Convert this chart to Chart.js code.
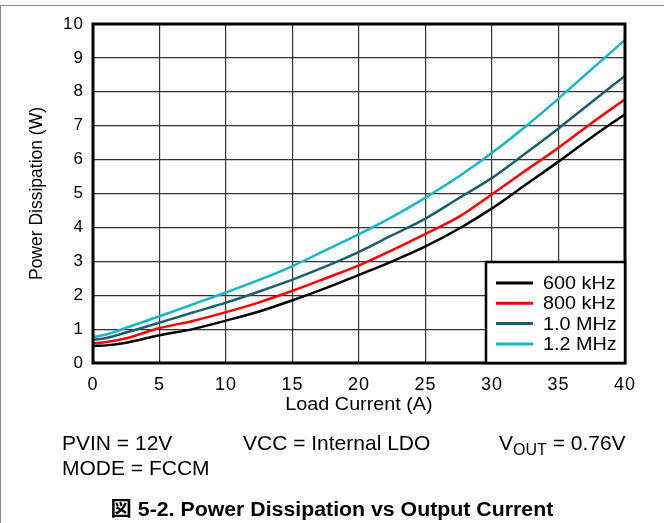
<!DOCTYPE html>
<html>
<head>
<meta charset="utf-8">
<script src="https://cdn.jsdelivr.net/npm/chart.js@4/dist/chart.umd.min.js"></script>
<style>
  body { margin: 0; background: #fff; }
  #wrap { position: relative; width: 664px; height: 523px; overflow: hidden; font-family: "Liberation Sans", Arial, sans-serif; }
  #chart { position: absolute; left: 0; top: 0; }
  .frameTop { position: absolute; left: 0; top: 5px; width: 664px; height: 1px; background: #8a8a8a; }
  .frameLeft { position: absolute; left: 0; top: 5px; width: 1px; height: 518px; background: #8a8a8a; }
  .note { position: absolute; font-size: 21px; color: #000; white-space: nowrap; line-height: 1; }
  .note sub { font-size: 16px; vertical-align: -5px; line-height: 0; }
  .caption { position: absolute; left: 0; width: 664px; text-align: center; top: 499px; font-size: 20px; line-height: 1; font-weight: bold;
             transform: scaleX(1.065); transform-origin: 333px 0; white-space: nowrap;
             font-family: "Liberation Sans", Arial, "Noto Sans CJK JP", sans-serif; }
</style>
</head>
<body>
<div id="wrap">
  <canvas id="chart" width="664" height="523"></canvas>
  <div class="frameTop"></div>
  <div class="frameLeft"></div>
  <div class="note" style="left:62px; top:432px;">PVIN = 12V</div>
  <div class="note" style="left:243px; top:432px;">VCC = Internal LDO</div>
  <div class="note" style="left:499px; top:432px;">V<sub>OUT</sub> = 0.76V</div>
  <div class="note" style="left:62px; top:457px;">MODE = FCCM</div>
  <div class="caption">図 5-2. Power Dissipation vs Output Current</div>
</div>
<script>
// load current (A)
const loadCurrent = [0, 1, 2.5, 5, 7.5, 10, 12.5, 15, 17.5, 20, 22.5, 25, 27.5, 30, 32.5, 35, 37.5, 40];

// power dissipation (W) per switching frequency
const pd600k = [0.50, 0.52, 0.60, 0.82, 1.00, 1.25, 1.52, 1.85, 2.21, 2.60, 3.00, 3.44, 3.96, 4.56, 5.25, 5.94, 6.66, 7.34];
const pd800k = [0.58, 0.62, 0.73, 1.03, 1.24, 1.50, 1.79, 2.13, 2.50, 2.88, 3.33, 3.81, 4.31, 4.98, 5.67, 6.35, 7.08, 7.78];
const pd1M   = [0.68, 0.74, 0.90, 1.19, 1.49, 1.78, 2.11, 2.46, 2.85, 3.28, 3.77, 4.26, 4.86, 5.46, 6.18, 6.92, 7.70, 8.47];
const pd1M2  = [0.77, 0.84, 1.04, 1.38, 1.73, 2.08, 2.45, 2.86, 3.33, 3.80, 4.31, 4.88, 5.50, 6.20, 6.97, 7.80, 8.67, 9.53];

const seriesLabels = ['600 kHz', '800 kHz', '1.0 MHz', '1.2 MHz'];
const seriesColors = ['#000000', '#ff0000', '#1b5e6d', '#16b6c6'];

const xTicks = [0, 5, 10, 15, 20, 25, 30, 35, 40];
const yTicks = [0, 1, 2, 3, 4, 5, 6, 7, 8, 9, 10];

const xTitle = 'Load Current (A)';
const yTitle = 'Power Dissipation (W)';

const FONT = '"Liberation Sans", Arial, sans-serif';

function toPoints(ys) {
    return loadCurrent.map((x, i) => ({ x: x, y: ys[i] }));
}

const allSeries = [pd600k, pd800k, pd1M, pd1M2];

// the source text is a bit wide, spread the tick labels a little
const spacing = {
    id: 'spacing',
    beforeDraw(chart) {
        chart.ctx.letterSpacing = '1px';
    }
};

// thick frame round the plot area
const framePlugin = {
    id: 'frame',
    afterDatasetsDraw(chart) {
        const a = chart.chartArea;
        const ctx = chart.ctx;
        ctx.save();
        ctx.strokeStyle = '#000';
        ctx.lineWidth = 3;
        ctx.strokeRect(a.left, a.top, a.right - a.left, a.bottom - a.top);
        ctx.restore();
    }
};

// axis titles, drawn by hand so the x one can be stretched like the source
const axisTitles = {
    id: 'axisTitles',
    afterDraw(chart) {
        const a = chart.chartArea;
        const ctx = chart.ctx;
        ctx.save();
        ctx.fillStyle = '#000';
        ctx.textAlign = 'center';
        ctx.textBaseline = 'alphabetic';
        ctx.letterSpacing = '0px';
        ctx.save();
        ctx.font = '17.5px ' + FONT;
        ctx.translate((a.left + a.right) / 2, a.bottom + 46.5);
        ctx.scale(1.13, 1);
        ctx.fillText(xTitle, 0, 0);
        ctx.restore();
        ctx.font = '17.5px ' + FONT;
        ctx.translate(42, (a.top + a.bottom) / 2);
        ctx.rotate(-Math.PI / 2);
        ctx.fillText(yTitle, 0, 0);
        ctx.restore();
    }
};

// legend box in the lower right corner of the plot
const boxLegend = {
    id: 'boxLegend',
    afterDraw(chart) {
        const a = chart.chartArea;
        const ctx = chart.ctx;
        const w = 139, h = 101;
        const left = a.right - w, top = a.bottom - h;
        ctx.save();
        ctx.fillStyle = '#fff';
        ctx.fillRect(left, top, w, h);
        ctx.strokeStyle = '#000';
        ctx.lineWidth = 2.5;
        ctx.strokeRect(left, top, w, h);
        ctx.font = '18px ' + FONT;
        ctx.letterSpacing = '0px';
        ctx.textBaseline = 'middle';
        ctx.textAlign = 'left';
        chart.data.datasets.forEach((ds, i) => {
            const y = top + 21 + i * 20.3;
            ctx.strokeStyle = ds.borderColor;
            ctx.lineWidth = 3;
            ctx.beginPath();
            ctx.moveTo(left + 10, y);
            ctx.lineTo(left + 47, y);
            ctx.stroke();
            ctx.save();
            ctx.translate(left + 57, y + 1);
            ctx.scale(1.1, 1);
            ctx.fillStyle = '#000';
            ctx.fillText(ds.label, 0, 0);
            ctx.restore();
        });
        ctx.restore();
    }
};

const ctx = document.getElementById('chart');
new Chart(ctx, {
    type: 'line',
    data: {
        datasets: allSeries.map((ys, i) => ({
            label: seriesLabels[i],
            data: toPoints(ys),
            borderColor: seriesColors[i],
            backgroundColor: seriesColors[i],
            borderWidth: 2.5,
            pointRadius: 0,
            cubicInterpolationMode: 'monotone',
            fill: false
        }))
    },
    options: {
        responsive: false,
        animation: false,
        layout: { padding: { left: 0, top: 24, right: 39, bottom: 105 } },
        plugins: {
            legend: { display: false },
            tooltip: { enabled: false }
        },
        scales: {
            x: {
                type: 'linear',
                min: 0,
                max: 40,
                afterBuildTicks: (scale) => { scale.ticks = xTicks.map(v => ({ value: v })); },
                afterFit: (scale) => { scale.height = 55; },
                ticks: { color: '#000', padding: 11, font: { family: FONT, size: 18 } },
                grid: { color: '#333', lineWidth: 1.2, drawTicks: false },
                border: { display: false },
                title: { display: false }
            },
            y: {
                min: 0,
                max: 10,
                afterBuildTicks: (scale) => { scale.ticks = yTicks.map(v => ({ value: v })); },
                afterFit: (scale) => { scale.width = 93; },
                ticks: { color: '#000', padding: 9, font: { family: FONT, size: 17 } },
                grid: { color: '#333', lineWidth: 1.2, drawTicks: false },
                border: { display: false },
                title: { display: false }
            }
        }
    },
    plugins: [spacing, framePlugin, axisTitles, boxLegend]
});
</script>
</body>
</html>
